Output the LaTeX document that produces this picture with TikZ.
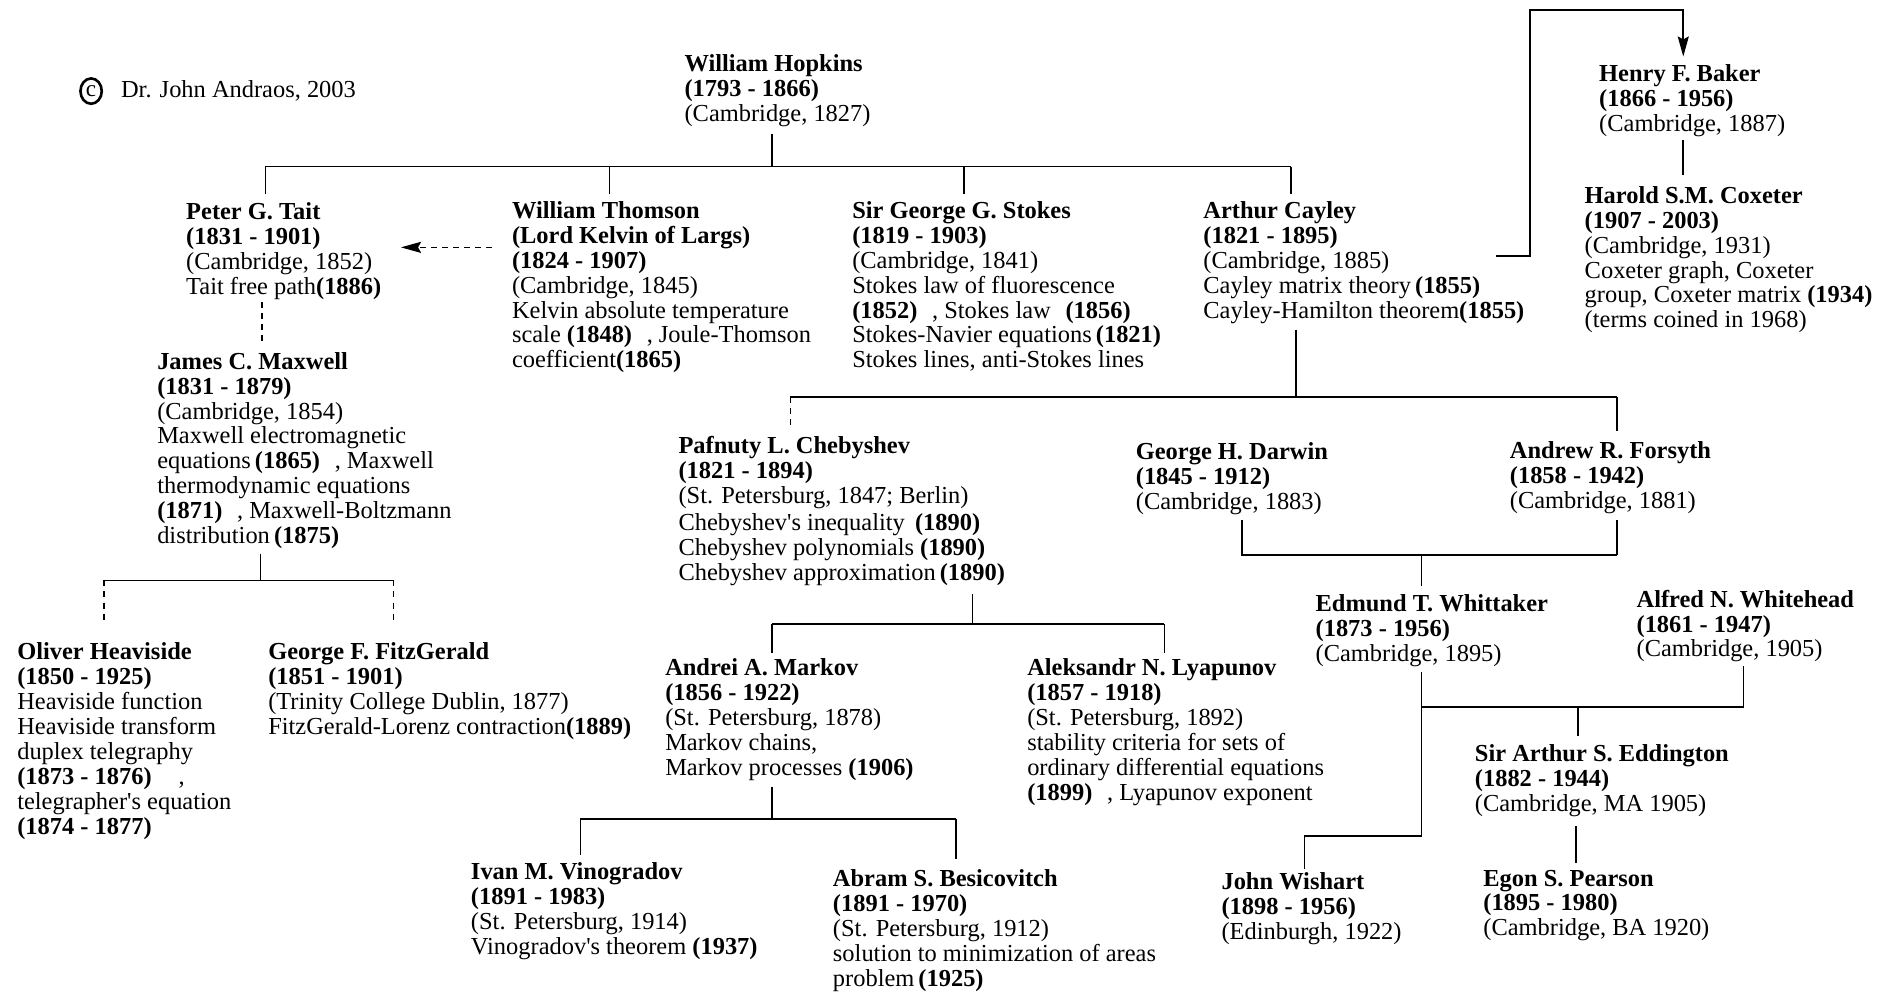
\documentclass[tikz,border=0pt]{standalone}
\usepackage{fontspec}
\setmainfont{Liberation Serif}
\usetikzlibrary{arrows.meta,shapes.geometric}
\newcommand{\yr}[1]{\textbf{#1}}
\newcommand{\gp}{\hspace{0.6em}}
\newcommand{\qt}{\textquotesingle}

\tikzset{
  person/.style={anchor=north west, inner sep=0pt, yshift=8.68pt, align=left,
    font=\fontsize{12.15}{12.4}\selectfont,
    execute at begin node=\strut, execute at end node=\strut},
  link/.style={line width=0.85pt},
  dlink/.style={line width=0.85pt, dash pattern=on 3pt off 2.5pt},
  tip/.style={-{Stealth[length=10pt,width=5.5pt,inset=1.5pt]}}
}

\begin{document}
\begin{tikzpicture}[x=0.6pt,y=-0.6pt]
  \useasboundingbox (0,0) rectangle (1568,822);
  % people
  \node[draw,ellipse,line width=1.3pt,inner sep=0pt,minimum width=10.6pt,minimum height=12.6pt,
        font=\fontsize{11.5}{11.5}\selectfont] (cmark) at (75.5,75.5) {c};
  \node[person] (author) at (100,80.7) {Dr. John Andraos, 2003};
  \node[person] (hopkins) at (567,59.5) {\yr{William Hopkins}\\ \yr{(1793 - 1866)}\\ (Cambridge, 1827)};
  \node[person] (tait) at (154,182) {\yr{Peter G. Tait}\\ \yr{(1831 - 1901)}\\ (Cambridge, 1852)\\ Tait free path\yr{(1886)}};
  \node[person] (thomson) at (424,181) {\yr{William Thomson}\\ \yr{(Lord Kelvin of Largs)}\\ \yr{(1824 - 1907)}\\ (Cambridge, 1845)\\ Kelvin absolute temperature\\ scale \yr{(1848)}\gp, Joule-Thomson\\ coefficient\yr{(1865)}};
  \node[person] (stokes) at (706,181) {\yr{Sir George G. Stokes}\\ \yr{(1819 - 1903)}\\ (Cambridge, 1841)\\ Stokes law of fluorescence\\ \yr{(1852)}\gp, Stokes law\gp\yr{(1856)}\\ Stokes-Navier equations\,\yr{(1821)}\\ Stokes lines, anti-Stokes lines};
  \node[person] (cayley) at (997,181) {\yr{Arthur Cayley}\\ \yr{(1821 - 1895)}\\ (Cambridge, 1885)\\ Cayley matrix theory\,\yr{(1855)}\\ Cayley-Hamilton theorem\yr{(1855)}};
  \node[person] (baker) at (1325,67.5) {\yr{Henry F. Baker}\\ \yr{(1866 - 1956)}\\ (Cambridge, 1887)};
  \node[person] (coxeter) at (1313,168.5) {\yr{Harold S.M. Coxeter}\\ \yr{(1907 - 2003)}\\ (Cambridge, 1931)\\ Coxeter graph, Coxeter\\ group, Coxeter matrix \yr{(1934)}\\ (terms coined in 1968)};
  \node[person] (maxwell) at (130,306) {\yr{James C. Maxwell}\\ \yr{(1831 - 1879)}\\ (Cambridge, 1854)\\ Maxwell electromagnetic\\ equations\,\yr{(1865)}\gp, Maxwell\\ thermodynamic equations\\ \yr{(1871)}\gp, Maxwell-Boltzmann\\ distribution\,\yr{(1875)}};
  \node[person] (heaviside) at (14,547) {\yr{Oliver Heaviside}\\ \yr{(1850 - 1925)}\\ Heaviside function\\ Heaviside transform\\ duplex telegraphy\\ \yr{(1873 - 1876)}\hspace{1.1em},\\ telegrapher\qt s equation\\ \yr{(1874 - 1877)}};
  \node[person] (fitzgerald) at (222,547) {\yr{George F. FitzGerald}\\ \yr{(1851 - 1901)}\\ (Trinity College Dublin, 1877)\\ FitzGerald-Lorenz contraction\yr{(1889)}};
  \node[person] (chebyshev) at (562,376) {\yr{Pafnuty L. Chebyshev}\\ \yr{(1821 - 1894)}\\ (St. Petersburg, 1847; Berlin)\\[1pt] Chebyshev\qt s inequality \,\yr{(1890)}\\ Chebyshev polynomials \yr{(1890)}\\ Chebyshev approximation\,\yr{(1890)}};
  \node[person] (markov) at (551,560) {\yr{Andrei A. Markov}\\ \yr{(1856 - 1922)}\\ (St. Petersburg, 1878)\\ Markov chains,\\ Markov processes \yr{(1906)}};
  \node[person] (lyapunov) at (851,560) {\yr{Aleksandr N. Lyapunov}\\ \yr{(1857 - 1918)}\\ (St. Petersburg, 1892)\\ stability criteria for sets of\\ ordinary differential equations\\ \yr{(1899)}\gp, Lyapunov exponent};
  \node[person] (vinogradov) at (390,729) {\yr{Ivan M. Vinogradov}\\ \yr{(1891 - 1983)}\\ (St. Petersburg, 1914)\\ Vinogradov\qt s theorem \yr{(1937)}};
  \node[person] (besicovitch) at (690,735) {\yr{Abram S. Besicovitch}\\ \yr{(1891 - 1970)}\\ (St. Petersburg, 1912)\\ solution to minimization of areas\\ problem\,\yr{(1925)}};
  \node[person] (darwin) at (941,381) {\yr{George H. Darwin}\\ \yr{(1845 - 1912)}\\ (Cambridge, 1883)};
  \node[person] (forsyth) at (1251,380) {\yr{Andrew R. Forsyth}\\ \yr{(1858 - 1942)}\\ (Cambridge, 1881)};
  \node[person] (whittaker) at (1090,507) {\yr{Edmund T. Whittaker}\\ \yr{(1873 - 1956)}\\ (Cambridge, 1895)};
  \node[person] (whitehead) at (1356,503) {\yr{Alfred N. Whitehead}\\ \yr{(1861 - 1947)}\\ (Cambridge, 1905)};
  \node[person] (eddington) at (1222,631) {\yr{Sir Arthur S. Eddington}\\ \yr{(1882 - 1944)}\\ (Cambridge, MA 1905)};
  \node[person] (pearson) at (1229,735) {\yr{Egon S. Pearson}\\ \yr{(1895 - 1980)}\\ (Cambridge, BA 1920)};
  \node[person] (wishart) at (1012,737) {\yr{John Wishart}\\ \yr{(1898 - 1956)}\\ (Edinburgh, 1922)};

  % junctions
  \coordinate (hop-j) at (640,138);
  \coordinate (tait-j) at (220,138);
  \coordinate (thomson-j) at (505,138);
  \coordinate (stokes-j) at (799,138);
  \coordinate (cayley-j) at (1070,138);
  \coordinate (kelvin-y) at (0,205);
  \coordinate (tm-x) at (217,0);
  \coordinate (max-j) at (216,481);
  \coordinate (heav-j) at (86,481);
  \coordinate (fitz-j) at (326,481);
  \coordinate (cay-out) at (1240,212);
  \coordinate (loop-top) at (1268,8);
  \coordinate (bk-x) at (1395,0);
  \coordinate (cay2-j) at (1074,329);
  \coordinate (cheb-j) at (655,329);
  \coordinate (fors-j) at (1340,329);
  \coordinate (cheb2-j) at (806,517);
  \coordinate (mark-j) at (640,517);
  \coordinate (lyap-j) at (965,517);
  \coordinate (mark2-j) at (640,679);
  \coordinate (vino-j) at (481,679);
  \coordinate (besi-j) at (792,679);
  \coordinate (darw-j) at (1029,460);
  \coordinate (fors2-j) at (1340,460);
  \coordinate (whit-j) at (1178,460);
  \coordinate (wt-j) at (1178,586);
  \coordinate (wh-j) at (1445,586);
  \coordinate (ed-j) at (1308,586);
  \coordinate (ws-j) at (1081,693);
  \coordinate (pe-x) at (1306,0);

  % Hopkins
  \draw[link] (hopkins.south -| hop-j) ++(0,3.5) -- (hop-j);
  \draw[link] (tait-j) -- (cayley-j);
  \draw[link] (tait.north -| tait-j) ++(0,-6.7) -- (tait-j);
  \draw[link] (thomson.north -| thomson-j) ++(0,-5.7) -- (thomson-j);
  \draw[link] (stokes.north -| stokes-j) ++(0,-5.7) -- (stokes-j);
  \draw[link] (cayley.north -| cayley-j) ++(0,-5.7) -- (cayley-j);
  \draw[dlink,tip,shorten <=9.6pt,shorten >=9.6pt] (thomson.west |- kelvin-y) -- (tait.east |- kelvin-y);
  \draw[dlink,shorten >=5.2pt] (tait.south -| tm-x) -- (maxwell.north -| tm-x);
  % Maxwell
  \draw[link] (maxwell.south -| max-j) ++(0,1.7) -- (max-j);
  \draw[link] (heav-j) -- (fitz-j);
  \draw[dlink] (heav-j) -- ([yshift=10pt]heaviside.north -| heav-j);
  \draw[dlink] (fitz-j) -- ([yshift=10pt]fitzgerald.north -| fitz-j);
  % Cayley
  \draw[link,tip,shorten >=3.7pt] (cay-out) -| (loop-top) -| (baker.north -| bk-x);
  \draw[link,shorten <=0.6pt,shorten >=5.5pt] (baker.south -| bk-x) -- (coxeter.north -| bk-x);
  \draw[link] (cayley.south -| cay2-j) ++(0,3.1) -- (cay2-j);
  \draw[link] (cheb-j) -- (fors-j);
  \draw[dlink] (cheb-j) -- ([yshift=3.4pt]chebyshev.north -| cheb-j);
  \draw[link] (forsyth.north -| fors-j) ++(0,-8.7) -- (fors-j);
  % Chebyshev
  \draw[link] (chebyshev.south -| cheb2-j) ++(0,5) -- (cheb2-j);
  \draw[link] (mark-j) -- (lyap-j);
  \draw[link] (markov.north -| mark-j) ++(0,-4.7) -- (mark-j);
  \draw[link] (lyapunov.north -| lyap-j) ++(0,-4.7) -- (lyap-j);
  % Markov
  \draw[link] (markov.south -| mark2-j) ++(0,3.1) -- (mark2-j);
  \draw[link] (vino-j) -- (besi-j);
  \draw[link] (vinogradov.north -| vino-j) ++(0,-6) -- (vino-j);
  \draw[link] (besicovitch.north -| besi-j) ++(0,-8.7) -- (besi-j);
  % Darwin, Forsyth
  \draw[link] (darwin.south -| darw-j) ++(0,2) -- (darw-j) -- (fors2-j);
  \draw[link] (forsyth.south -| fors2-j) ++(0,3) -- (fors2-j);
  \draw[link] (whittaker.north -| whit-j) ++(0,-6.7) -- (whit-j);
  % Whittaker, Whitehead
  \draw[link] (whittaker.south -| wt-j) ++(0,2) |- (ws-j);
  \draw[link] (wishart.north -| ws-j) ++(0,-2.7) -- (ws-j);
  \draw[link] (wt-j) -- (wh-j);
  \draw[link] (whitehead.south -| wh-j) ++(0,1) -- (wh-j);
  \draw[link] (eddington.north -| ed-j) ++(0,-6.7) -- (ed-j);
  \draw[link,shorten <=3.4pt,shorten >=3.4pt] (eddington.south -| pe-x) -- (pearson.north -| pe-x);
\end{tikzpicture}
\end{document}
